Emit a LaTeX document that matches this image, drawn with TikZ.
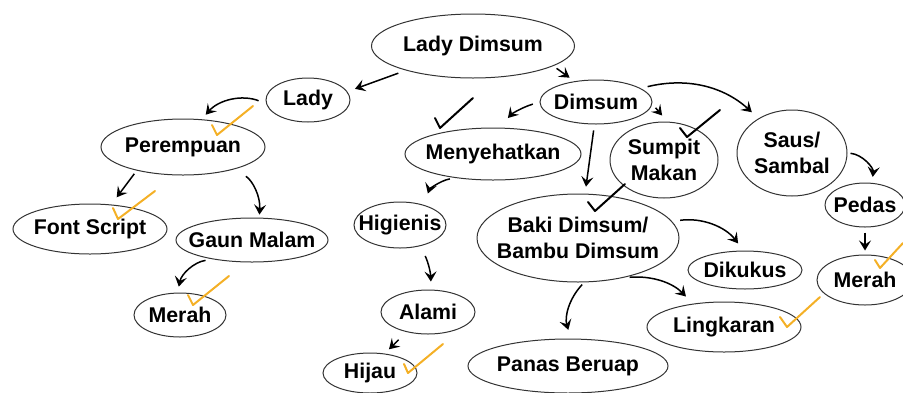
\documentclass[tikz,border=0pt]{standalone}
\usepackage{fontspec}
\setmainfont{Liberation Sans}
\usetikzlibrary{shapes.geometric,arrows.meta}

\definecolor{tickorange}{RGB}{244,176,38}
% text that does not widen its bubble
\newcommand{\zw}[1]{\makebox[0pt]{#1}}

\begin{document}
\begin{tikzpicture}[x=1pt,y=1pt,
    bubble/.style n args={2}{ellipse,draw=black!80,line width=1pt,inner sep=0pt,
      minimum width=#1pt,minimum height=#2pt,align=center,
      font=\bfseries\fontsize{21.3}{25.5}\selectfont},
    link/.style 2 args={-{Stealth[length=10pt,width=12pt,inset=4pt]},line width=1.5pt,
      shorten <=#1pt,shorten >=#2pt},
    tick/.style={line width=2pt,line cap=round,line join=round}]
    \useasboundingbox (0,0) rectangle (903,-392);

    % concept bubbles
    \node[bubble={203}{64}] (ladydimsum) at (473,-46) {\zw{Lady Dimsum}};
    \node[bubble={84}{44}] (lady) at (308,-100) {\zw{Lady}};
    \node[bubble={164}{56}] (perempuan) at (183,-147) {\zw{Perempuan}};
    \node[bubble={154}{50}] (fontscript) at (90,-229) {\zw{Font Script}};
    \node[bubble={152}{44}] (gaunmalam) at (252,-240) {\zw{Gaun Malam}};
    \node[bubble={92}{44}] (merahkiri) at (180,-315) {\zw{Merah}};
    \node[bubble={112}{44}] (dimsum) at (596,-102) {\zw{Dimsum}};
    \node[bubble={176}{52}] (menyehatkan) at (493,-154) {\zw{Menyehatkan}};
    \node[bubble={108}{76}] (sumpit) at (664,-160) {\zw{Sumpit}\\\zw{Makan}};
    \node[bubble={110}{86}] (saus) at (792,-153) {\zw{Saus/}\\\zw{Sambal}};
    \node[bubble={80}{44}] (pedas) at (865,-205) {\zw{Pedas}};
    \node[bubble={96}{50}] (merahkanan) at (865,-280) {\zw{Merah}};
    \node[bubble={92}{46}] (higienis) at (400,-225) {\zw{Higienis}};
    \node[bubble={94}{44}] (alami) at (428,-312) {\zw{Alami}};
    \node[bubble={94}{40}] (hijau) at (370,-373) {\zw{Hijau}};
    \node[bubble={202}{88}] (baki) at (578,-238) {\zw{Baki Dimsum/}\\\zw{Bambu Dimsum}};
    \node[bubble={114}{38}] (dikukus) at (745,-270) {\zw{Dikukus}};
    \node[bubble={154}{50}] (lingkaran) at (724,-327) {\zw{Lingkaran}};
    \node[bubble={200}{54}] (panas) at (568,-366) {\zw{Panas Beruap}};

    % arrows
    \draw[link={8}{8}] (ladydimsum.200) -- (lady.12);
    \draw[link={4}{6}] (ladydimsum.-14) -- (dimsum.136);
    \draw[link={8}{6}] (lady.185) to[bend right=35] (perempuan.56);
    \draw[link={4}{9}] (perempuan.207) -- (fontscript.49);
    \draw[link={13}{3}] (perempuan.-23) to[bend left=30] (gaunmalam.72);
    \draw[link={7}{6}] (gaunmalam.206) to[bend right=35] (merahkiri.96);
    \draw[link={7}{13}] (dimsum.180) to[bend right=15] (menyehatkan.77);
    \draw[link={5}{8}] (dimsum.-2) -- (sumpit.85);
    \draw[link={7}{9}] (dimsum.17) to[bend left=28] (saus.134);
    \draw[link={6}{7}] (dimsum.-94) -- (baki.81);
    \draw[link={5}{12}] (menyehatkan.212) to[bend right=30] (higienis.40);
    \draw[link={11}{8}] (higienis.-46) to[bend left=12] (alami.82);
    \draw[link={11}{6}] (alami.223) -- (hijau.53);
    \draw[link={3}{6}] (saus.0) to[bend left=45] (pedas.72);
    \draw[link={5}{4}] (pedas.-90) -- (merahkanan.90);
    \draw[link={8}{9}] (baki.10) to[bend left=30] (dikukus.94);
    \draw[link={6}{10}] (baki.-41) to[bend left=25] (lingkaran.143);
    \draw[link={3}{9}] (baki.-82) to[bend right=30] (panas.84);

    % ticks
    \draw[tick,tickorange] (212,-125) -- (217,-135) -- (253,-106);
    \draw[tick,tickorange] (113,-208) -- (118,-219) -- (155,-191);
    \draw[tick,tickorange] (188,-295) -- (193,-305) -- (229,-276);
    \draw[tick,tickorange] (404,-364) -- (408,-373) -- (443,-344);
    \draw[tick,tickorange] (780,-317) -- (787,-327) -- (820,-297);
    \draw[tick,tickorange] (875,-260) -- (880,-268) -- (903,-243);
    \draw[tick] (435,-118) -- (440,-128) -- (473,-98);
    \draw[tick] (680,-128) -- (687,-137) -- (720,-110);
    \draw[tick] (588,-202) -- (595,-211) -- (625,-184);
\end{tikzpicture}
\end{document}
